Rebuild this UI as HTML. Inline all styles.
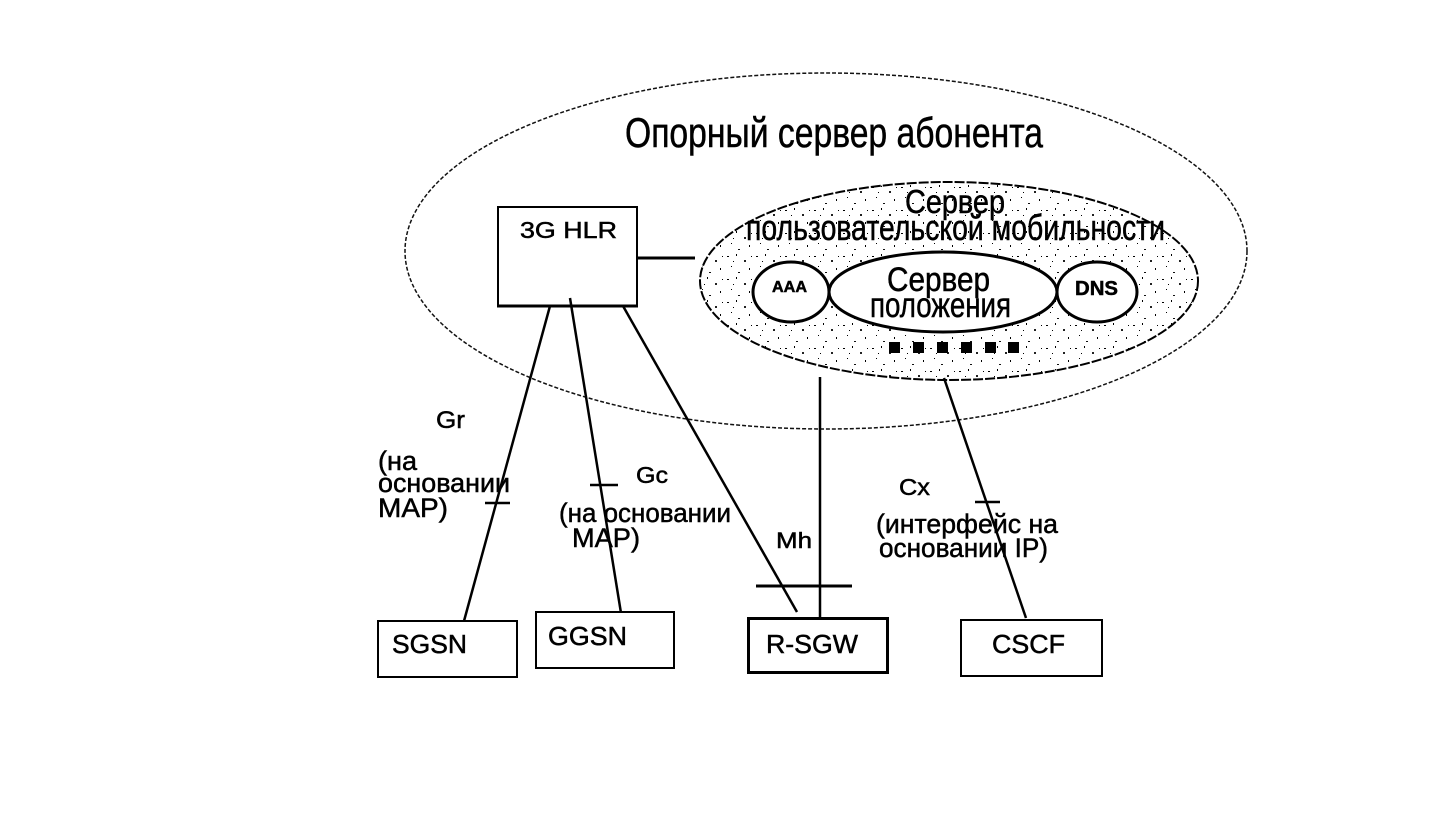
<!DOCTYPE html>
<html><head><meta charset="utf-8"><style>
html,body{margin:0;padding:0;background:#fff;}
svg{display:block;}
text{font-family:"Liberation Sans","DejaVu Sans",sans-serif;fill:#000;stroke:#000;stroke-width:0.5;}
</style></head><body>
<svg width="1443" height="825" viewBox="0 0 1443 825" xmlns="http://www.w3.org/2000/svg">
<defs>
<pattern id="st" width="29" height="23" patternUnits="userSpaceOnUse">
<rect width="29" height="23" fill="#fff"/>
<rect x="2" y="3" width="2" height="1" fill="#000"/>
<rect x="11" y="1" width="1" height="2" fill="#000"/>
<rect x="19" y="7" width="2" height="2" fill="#222"/>
<rect x="6" y="13" width="1" height="1" fill="#000"/>
<rect x="24" y="15" width="1" height="2" fill="#000"/>
<rect x="13" y="19" width="2" height="1" fill="#111"/>
<rect x="8" y="8" width="1" height="1" fill="#000"/>
<rect x="26" y="3" width="1" height="1" fill="#000"/>
</pattern>
</defs>

<!-- outer ellipse -->
<ellipse cx="826" cy="251" rx="421" ry="178" fill="none" stroke="#111" stroke-width="1.5" stroke-dasharray="4 2"/>

<text x="625" y="147" font-size="42" textLength="418" lengthAdjust="spacingAndGlyphs">Опорный сервер абонента</text>

<!-- inner stippled ellipse -->
<ellipse cx="949" cy="281" rx="249" ry="99" fill="url(#st)" stroke="#000" stroke-width="2" stroke-dasharray="10 2"/>
<text x="905" y="213" font-size="33" textLength="100" lengthAdjust="spacingAndGlyphs">Сервер</text>
<text x="746" y="240" font-size="36" textLength="419" lengthAdjust="spacingAndGlyphs">пользовательской мобильности</text>

<!-- AAA, position, DNS -->
<ellipse cx="791" cy="292" rx="38" ry="30" fill="#fff" stroke="#000" stroke-width="3"/>
<text x="772" y="292" font-size="16" font-weight="bold" textLength="35" lengthAdjust="spacingAndGlyphs">AAA</text>
<ellipse cx="943" cy="292" rx="114" ry="40" fill="#fff" stroke="#000" stroke-width="3"/>
<text x="887" y="291" font-size="34" textLength="103" lengthAdjust="spacingAndGlyphs">Сервер</text>
<text x="870" y="317" font-size="35" textLength="141" lengthAdjust="spacingAndGlyphs">положения</text>
<ellipse cx="1097" cy="292" rx="40" ry="30" fill="#fff" stroke="#000" stroke-width="3"/>
<text x="1075" y="295" font-size="20" font-weight="bold" textLength="43" lengthAdjust="spacingAndGlyphs">DNS</text>

<!-- squares -->
<g fill="#000">
<rect x="889" y="342" width="11" height="11"/>
<rect x="913" y="342" width="11" height="11"/>
<rect x="937" y="342" width="11" height="11"/>
<rect x="961" y="342" width="11" height="11"/>
<rect x="985" y="342" width="11" height="11"/>
<rect x="1008" y="342" width="11" height="11"/>
</g>

<!-- HLR box -->
<rect x="498" y="207" width="139" height="99" fill="#fff" stroke="#000" stroke-width="2"/>
<line x1="497" y1="306" x2="638" y2="306" stroke="#000" stroke-width="3"/>
<text x="520" y="238" font-size="23" textLength="97" lengthAdjust="spacingAndGlyphs">3G HLR</text>
<line x1="637" y1="258" x2="695" y2="258" stroke="#000" stroke-width="3"/>

<!-- connectors -->
<g stroke="#000" stroke-width="2.5" fill="none">
<line x1="550" y1="306" x2="464" y2="621"/>
<line x1="570" y1="298" x2="621" y2="613"/>
<line x1="623" y1="306" x2="797" y2="612"/>
<line x1="820" y1="377" x2="820" y2="619"/>
<line x1="944" y1="378" x2="1026" y2="618"/>
<line x1="485" y1="503" x2="510" y2="503"/>
<line x1="590" y1="485" x2="618" y2="485"/>
<line x1="975" y1="502" x2="1000" y2="502"/>
<line x1="756" y1="586" x2="852" y2="586" stroke-width="3"/>
</g>

<!-- labels -->
<text x="436" y="428" font-size="24" textLength="29" lengthAdjust="spacingAndGlyphs">Gr</text>
<text x="378" y="470" font-size="27" textLength="39" lengthAdjust="spacingAndGlyphs">(на</text>
<text x="378" y="492" font-size="27" textLength="132" lengthAdjust="spacingAndGlyphs">основании</text>
<text x="378" y="517" font-size="27" textLength="70" lengthAdjust="spacingAndGlyphs">MAP)</text>

<text x="636" y="483" font-size="23" textLength="32" lengthAdjust="spacingAndGlyphs">Gc</text>
<text x="559" y="522" font-size="27" textLength="172" lengthAdjust="spacingAndGlyphs">(на основании</text>
<text x="572" y="547" font-size="27" textLength="68" lengthAdjust="spacingAndGlyphs">MAP)</text>

<text x="776" y="548" font-size="22" textLength="36" lengthAdjust="spacingAndGlyphs">Mh</text>

<text x="899" y="495" font-size="23" textLength="31" lengthAdjust="spacingAndGlyphs">Cx</text>
<text x="876" y="533" font-size="27" textLength="182" lengthAdjust="spacingAndGlyphs">(интерфейс на</text>
<text x="879" y="557" font-size="27" textLength="169" lengthAdjust="spacingAndGlyphs">основании IP)</text>

<!-- bottom boxes -->
<rect x="378" y="621" width="139" height="56" fill="#fff" stroke="#000" stroke-width="2"/>
<text x="392" y="653" font-size="26" textLength="75" lengthAdjust="spacingAndGlyphs">SGSN</text>

<rect x="536" y="612" width="138" height="56" fill="#fff" stroke="#000" stroke-width="2"/>
<text x="548" y="645" font-size="26" textLength="79" lengthAdjust="spacingAndGlyphs">GGSN</text>

<rect x="748.5" y="618.5" width="139" height="54" fill="#fff" stroke="#000" stroke-width="3"/>
<text x="766" y="653" font-size="26" textLength="92" lengthAdjust="spacingAndGlyphs">R-SGW</text>

<rect x="961" y="620" width="141" height="56" fill="#fff" stroke="#000" stroke-width="2"/>
<text x="992" y="653" font-size="26" textLength="73" lengthAdjust="spacingAndGlyphs">CSCF</text>
</svg>
</body></html>
